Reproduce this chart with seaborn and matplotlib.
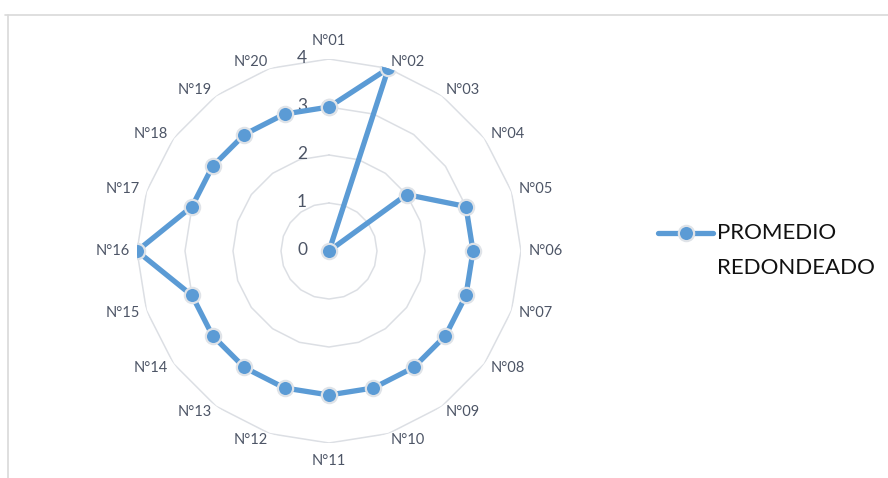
import numpy as np
import pandas as pd
import matplotlib
matplotlib.use("Agg")
import matplotlib.pyplot as plt
from matplotlib.lines import Line2D
from matplotlib.transforms import offset_copy
import seaborn as sns

# Rounded average score per item
categories = [f"N°{i:02d}" for i in range(1, 21)]
values = [3, 4, 0, 2, 3, 3, 3, 3, 3, 3, 3, 3, 3, 3, 3, 4, 3, 3, 3, 3]
radial_ticks = [0, 1, 2, 3, 4]
series_lines = ["PROMEDIO", "REDONDEADO"]

sns.set_theme(style="white")
plt.rcParams["font.family"] = ["Lato", "DejaVu Sans"]

W, H = 888, 478
fig = plt.figure(figsize=(W / 100, H / 100), dpi=100)
fig.patch.set_facecolor("white")

cx, cy, R = 329, 251, 192
ax = fig.add_axes([(cx - R) / W, (H - cy - R) / H, 2 * R / W, 2 * R / H],
                  projection="polar")
ax.set_theta_zero_location("N")
ax.set_theta_direction(-1)
ax.set_ylim(0, 4)
ax.grid(False)
ax.set_xticks([])
ax.set_yticks([])
ax.spines["polar"].set_visible(False)
ax.set_facecolor("none")

n = len(categories)
theta = np.arange(n) * 2 * np.pi / n

grid_color = "#dcdfe4"
ring_theta = np.append(theta, theta[0])
for r in radial_ticks[1:]:
    ax.plot(ring_theta, [r] * (n + 1), color=grid_color, lw=1.1, zorder=1)

# category labels anchored just outside the outer ring, pushed outward
text_color = "#4d5566"
for t, lab in zip(theta, categories):
    s, c = np.sin(t), np.cos(t)
    if abs(s) < 1e-6:
        ha, va, rr = "center", ("bottom" if c > 0 else "top"), 4.22
    else:
        ha, va, rr = ("left" if s > 0 else "right"), "center", 4.15
    ax.text(t, rr, lab, ha=ha, va=va, fontsize=10.5, color=text_color)

tick_tr = offset_copy(ax.transData, fig=fig, x=-27, y=1, units="dots")
for r in radial_ticks:
    ax.text(0, r, str(r), transform=tick_tr, ha="center", va="center",
            fontsize=12.5, color=text_color)

df = pd.DataFrame({"theta": np.append(theta, 2 * np.pi),
                   "value": values + values[:1]})
blue = "#5b9bd5"
edge = "#dfe3e8"
sns.lineplot(data=df, x="theta", y="value", ax=ax, sort=False,
             color=blue, lw=3.8, marker="o", markersize=11,
             markerfacecolor=blue, markeredgecolor=edge,
             markeredgewidth=1.6, zorder=5, legend=False)
ax.set_xlabel("")
ax.set_ylabel("")
ax.set_ylim(0, 4)

# legend entry: line with marker, followed by the two-line series name
ly = 1 - 233 / H
fig.add_artist(Line2D([658 / W, 713 / W], [ly, ly], color=blue, lw=3.8,
                      solid_capstyle="round"))
fig.add_artist(Line2D([686 / W], [ly], marker="o", markersize=11,
                      markerfacecolor=blue, markeredgecolor=edge,
                      markeredgewidth=1.6))
for i, line in enumerate(series_lines):
    fig.text(717 / W, 1 - (233 + 35 * i) / H, line, ha="left", va="center",
             fontsize=16, color="#111111")

# chart-area border
fig.add_artist(Line2D([5 / W, 1], [1 - 15 / H] * 2, color="#d9d9d9", lw=1.2))
fig.add_artist(Line2D([8 / W] * 2, [0, 1 - 15 / H], color="#d9d9d9", lw=1.2))

fig.savefig("out.png", dpi=100, facecolor="white")
